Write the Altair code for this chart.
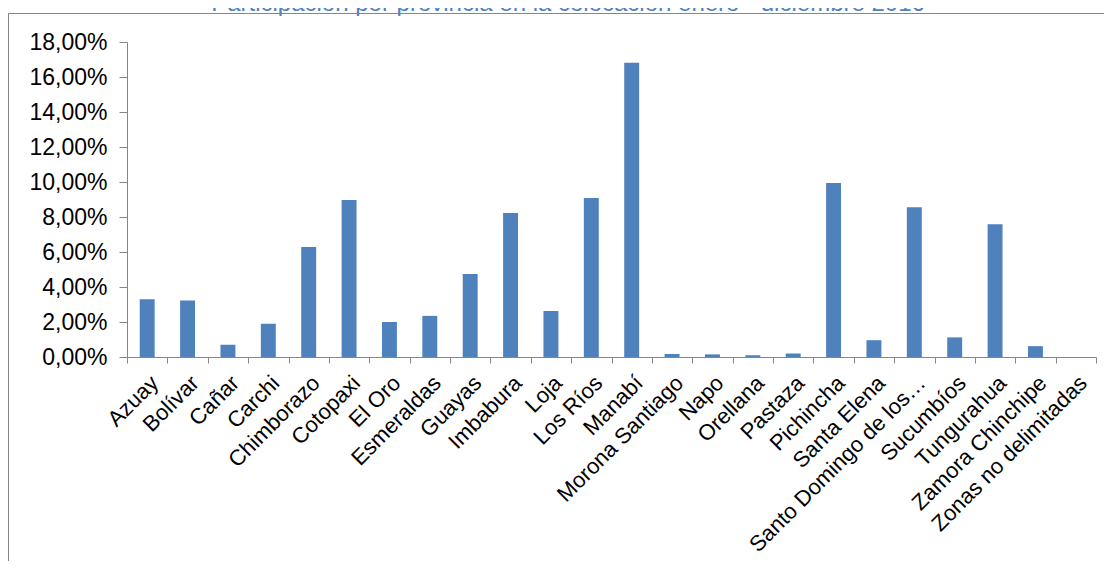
import altair as alt
import pandas as pd

provincias = [
    "Azuay", "Bolívar", "Cañar", "Carchi", "Chimborazo", "Cotopaxi", "El Oro",
    "Esmeraldas", "Guayas", "Imbabura", "Loja", "Los Ríos", "Manabí",
    "Morona Santiago", "Napo", "Orellana", "Pastaza", "Pichincha", "Santa Elena",
    "Santo Domingo de los…", "Sucumbíos", "Tungurahua", "Zamora Chinchipe",
    "Zonas no delimitadas",
]
participacion = [
    3.30, 3.23, 0.70, 1.90, 6.28, 8.97, 2.00,
    2.35, 4.74, 8.23, 2.63, 9.08, 16.82,
    0.17, 0.15, 0.10, 0.20, 9.95, 0.96,
    8.56, 1.12, 7.59, 0.62,
    0.0,
]
ticks_y = [0, 2, 4, 6, 8, 10, 12, 14, 16, 18]
titulo = "Participación por provincia en la colocación enero - diciembre 2016"

df = pd.DataFrame({"provincia": provincias, "valor": participacion})
deco = pd.DataFrame({"t": [titulo]})

FONT = "Liberation Sans"
GRAY = "#868686"
BLUE = "#4F81BD"

bars = alt.Chart(df).mark_bar(color=BLUE, width=alt.RelativeBandSize(0.37)).encode(
    x=alt.X(
        "provincia:N",
        sort=None,
        scale=alt.Scale(paddingInner=0, paddingOuter=0),
        axis=alt.Axis(
            title=None,
            labelAngle=-45,
            labelFontSize=22,
            labelFont=FONT,
            labelColor="#000000",
            labelLimit=1000,
            labelPadding=9,
            tickBand="extent",
            tickSize=6,
            tickColor=GRAY,
            domainColor=GRAY,
            grid=False,
        ),
    ),
    y=alt.Y(
        "valor:Q",
        scale=alt.Scale(domain=[0, 18], nice=False),
        axis=alt.Axis(
            title=None,
            values=ticks_y,
            labelExpr="replace(format(datum.value, '.2f'), '.', ',') + '%'",
            labelFontSize=23,
            labelFont=FONT,
            labelColor="#000000",
            labelPadding=12,
            tickSize=8,
            tickColor=GRAY,
            domainColor=GRAY,
            grid=False,
        ),
    ),
)

frame_left = alt.Chart(deco).mark_rule(color=GRAY, strokeWidth=1).encode(
    x=alt.value(-118.5), y=alt.value(-28.5), y2=alt.value(700)
)
frame_top = alt.Chart(deco).mark_rule(color=GRAY, strokeWidth=1).encode(
    x=alt.value(-118.5), x2=alt.value(1200), y=alt.value(-28.5)
)
title = alt.Chart(deco).mark_text(
    fontSize=24, font=FONT, color=BLUE, align="center", baseline="alphabetic"
).encode(text="t:N", x=alt.value(441), y=alt.value(-31))

chart = alt.layer(bars, frame_left, frame_top, title).properties(
    width=969,
    height=315,
    autosize=alt.AutoSizeParams(type="none"),
    padding={"left": 119, "top": 34, "right": 8, "bottom": 204},
).configure_view(stroke=None)

chart.save("out.html", embed_options={"renderer": "svg", "actions": False})
